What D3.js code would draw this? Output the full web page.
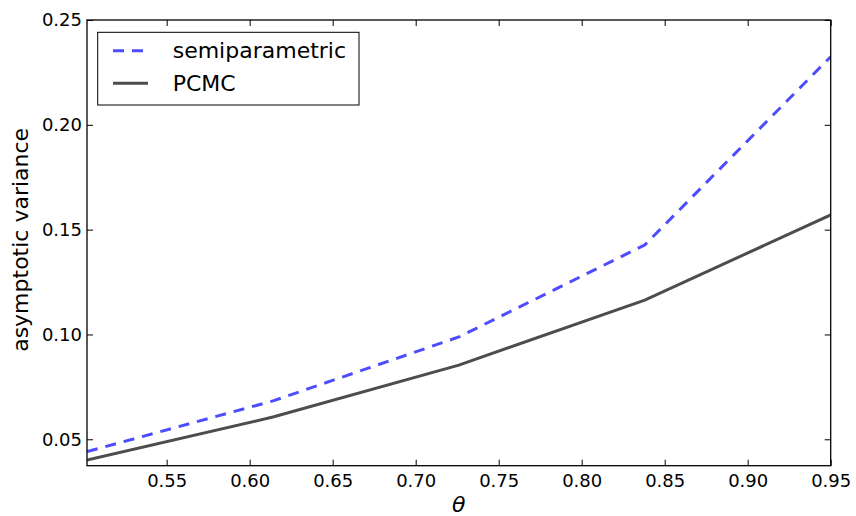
<!DOCTYPE html>
<html>
<head>
<meta charset="utf-8">
<script src="https://cdn.jsdelivr.net/npm/d3@7"></script>
<style>
  html, body { margin: 0; padding: 0; background: #fff; }
  svg { display: block; font-family: "DejaVu Sans", sans-serif; }
</style>
</head>
<body>
<svg id="chart" width="856" height="516"></svg>
<script>
const thetaValues = [0.502, 0.614, 0.726, 0.838, 0.95];
const semiparametricValues = [0.0441, 0.0683, 0.0988, 0.1427, 0.2325];
const pcmcValues = [0.0401, 0.0606, 0.0854, 0.1164, 0.157];
const xTickValues = [0.55, 0.60, 0.65, 0.70, 0.75, 0.80, 0.85, 0.90, 0.95];
const yTickValues = [0.05, 0.10, 0.15, 0.20, 0.25];
const seriesNames = ["semiparametric", "PCMC"];

(function () {
const svg = d3.select("#chart");
const pLeft = 87, pRight = 830.7, pTop = 20, pBottom = 465.7;

const x = d3.scaleLinear().domain([0.502, 0.95]).range([pLeft, pRight]);
const y = d3.scaleLinear().domain([0.0374, 0.25]).range([pBottom, pTop]);

const series = [
  { name: seriesNames[0], values: semiparametricValues, color: "#4d4dff", dash: "11,8" },
  { name: seriesNames[1], values: pcmcValues, color: "#4d4d4d", dash: null }
];

const line = d3.line().x(d => x(d[0])).y(d => y(d[1]));
svg.append("clipPath").attr("id", "clip").append("rect")
  .attr("x", pLeft).attr("y", pTop).attr("width", pRight - pLeft).attr("height", pBottom - pTop);

series.forEach(s => {
  svg.append("path")
    .datum(thetaValues.map((t, i) => [t, s.values[i]]))
    .attr("d", line)
    .attr("fill", "none")
    .attr("stroke", s.color)
    .attr("stroke-width", 3)
    .attr("stroke-dasharray", s.dash)
    .attr("clip-path", "url(#clip)");
});

const fmt = d3.format(".2f");
const tickStyle = g => {
  g.select(".domain").remove();
  g.selectAll(".tick line").attr("stroke", "#000").attr("stroke-width", 1);
  g.selectAll(".tick text").attr("font-family", "DejaVu Sans").attr("font-size", 18).attr("fill", "#000");
};

svg.append("g").attr("transform", `translate(0,${pBottom})`)
  .call(d3.axisBottom(x).tickValues(xTickValues).tickFormat(fmt).tickSizeInner(-6).tickSizeOuter(0).tickPadding(9))
  .call(tickStyle);
svg.append("g").attr("transform", `translate(0,${pTop})`)
  .call(d3.axisTop(x).tickValues(xTickValues).tickFormat("").tickSizeInner(-6).tickSizeOuter(0))
  .call(tickStyle);
svg.append("g").attr("transform", `translate(${pLeft},0)`)
  .call(d3.axisLeft(y).tickValues(yTickValues).tickFormat(fmt).tickSizeInner(-6).tickSizeOuter(0).tickPadding(5))
  .call(tickStyle);
svg.append("g").attr("transform", `translate(${pRight},0)`)
  .call(d3.axisRight(y).tickValues(yTickValues).tickFormat("").tickSizeInner(-6).tickSizeOuter(0))
  .call(tickStyle);

svg.append("rect").attr("x", pLeft).attr("y", pTop).attr("width", pRight - pLeft).attr("height", pBottom - pTop)
  .attr("fill", "none").attr("stroke", "#000").attr("stroke-width", 1.3);

svg.append("text").attr("x", (pLeft + pRight) / 2).attr("y", 512)
  .attr("text-anchor", "middle").attr("font-size", 22).attr("font-style", "italic")
  .attr("font-family", "DejaVu Sans").text("θ");
svg.append("text").attr("transform", `translate(28,${(pTop + pBottom) / 2 - 3}) rotate(-90)`)
  .attr("text-anchor", "middle").attr("font-size", 22)
  .attr("font-family", "DejaVu Sans").text("asymptotic variance");

const lg = svg.append("g");
lg.append("rect").attr("x", 97.7).attr("y", 32.3).attr("width", 261.3).attr("height", 72.7)
  .attr("fill", "#fff").attr("stroke", "#000").attr("stroke-width", 1);
series.forEach((s, i) => {
  const ry = 50.7 + i * 32.5;
  lg.append("line").attr("x1", 113).attr("x2", 148).attr("y1", ry).attr("y2", ry)
    .attr("stroke", s.color).attr("stroke-width", 3).attr("stroke-dasharray", s.dash);
  lg.append("text").attr("x", 172.7).attr("y", ry).attr("dy", "0.35em")
    .attr("font-size", 22).attr("font-family", "DejaVu Sans").text(s.name);
});
})();
</script>
</body>
</html>
